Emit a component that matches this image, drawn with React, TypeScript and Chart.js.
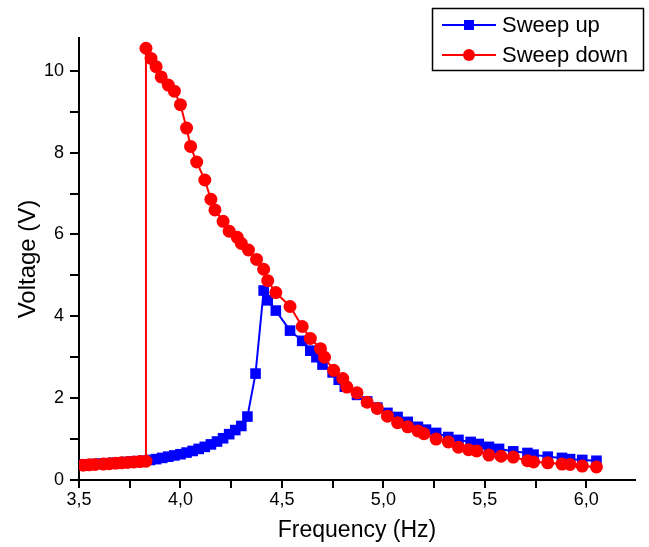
import React, { useEffect, useRef } from "react";
import { Chart, registerables } from "chart.js";

Chart.register(...registerables);

// Sweep up (blue squares)
const upFreq = [3.52, 3.55, 3.58, 3.61, 3.64, 3.67, 3.70, 3.73, 3.76, 3.79, 3.82, 3.85, 3.88, 3.91, 3.94, 3.97, 4.00, 4.03, 4.06, 4.09, 4.12, 4.15, 4.18, 4.21, 4.24, 4.27, 4.30, 4.33, 4.37, 4.41, 4.43, 4.47, 4.54, 4.60, 4.64, 4.67, 4.70, 4.75, 4.78, 4.81, 4.87, 4.92, 4.97, 5.02, 5.07, 5.12, 5.17, 5.21, 5.26, 5.32, 5.37, 5.43, 5.47, 5.52, 5.57, 5.64, 5.71, 5.74, 5.81, 5.88, 5.92, 5.98, 6.05];
const upVolt = [0.38, 0.38, 0.39, 0.40, 0.41, 0.42, 0.43, 0.44, 0.45, 0.46, 0.47, 0.49, 0.51, 0.54, 0.57, 0.60, 0.63, 0.67, 0.71, 0.76, 0.81, 0.87, 0.94, 1.02, 1.12, 1.22, 1.32, 1.55, 2.6, 4.63, 4.39, 4.14, 3.65, 3.40, 3.16, 3.0, 2.82, 2.63, 2.45, 2.28, 2.08, 1.92, 1.77, 1.64, 1.54, 1.42, 1.30, 1.23, 1.15, 1.05, 0.98, 0.93, 0.88, 0.81, 0.76, 0.70, 0.66, 0.62, 0.57, 0.54, 0.51, 0.49, 0.47];

// Sweep down (red circles), in sweep order (high to low frequency)
const downFreq = [6.05, 5.98, 5.92, 5.88, 5.81, 5.74, 5.71, 5.64, 5.58, 5.52, 5.46, 5.42, 5.37, 5.32, 5.26, 5.20, 5.17, 5.12, 5.07, 5.02, 4.97, 4.92, 4.87, 4.82, 4.80, 4.755, 4.71, 4.69, 4.64, 4.60, 4.54, 4.47, 4.43, 4.41, 4.375, 4.335, 4.30, 4.28, 4.24, 4.21, 4.17, 4.15, 4.12, 4.08, 4.05, 4.03, 4.00, 3.97, 3.94, 3.905, 3.88, 3.855, 3.83, 3.83, 3.80, 3.77, 3.74, 3.71, 3.68, 3.65, 3.62, 3.58, 3.55, 3.52];
const downVolt = [0.32, 0.34, 0.38, 0.39, 0.42, 0.44, 0.47, 0.56, 0.58, 0.61, 0.71, 0.74, 0.80, 0.93, 1.00, 1.13, 1.20, 1.30, 1.40, 1.56, 1.75, 1.90, 2.13, 2.27, 2.48, 2.68, 3.0, 3.21, 3.46, 3.75, 4.24, 4.58, 4.87, 5.15, 5.39, 5.62, 5.78, 5.93, 6.08, 6.32, 6.6, 6.86, 7.33, 7.77, 8.15, 8.6, 9.17, 9.5, 9.65, 9.85, 10.1, 10.3, 10.55, 0.46, 0.45, 0.44, 0.43, 0.42, 0.41, 0.40, 0.39, 0.38, 0.37, 0.36];

const seriesLabels = ["Sweep up", "Sweep down"];
const seriesColors = ["#0000ff", "#ff0000"];
const xTitle = "Frequency (Hz)";
const yTitle = "Voltage (V)";

const FONT = "'Liberation Sans', Arial, sans-serif";

const legendPlugin = {
  id: "boxLegend",
  afterDraw(chart: any) {
    const ctx = chart.ctx;
    ctx.save();
    const bx = 432.5, by = 8.5, bw = 211, bh = 62;
    ctx.fillStyle = "#ffffff";
    ctx.fillRect(bx, by, bw, bh);
    ctx.strokeStyle = "#000000";
    ctx.lineWidth = 1.5;
    ctx.strokeRect(bx, by, bw, bh);
    const rows = [25, 55];
    chart.data.datasets.forEach((ds: any, i: number) => {
      const y = rows[i];
      ctx.strokeStyle = ds.borderColor;
      ctx.lineWidth = 2;
      ctx.beginPath();
      ctx.moveTo(442, y);
      ctx.lineTo(496, y);
      ctx.stroke();
      ctx.fillStyle = ds.borderColor;
      if (ds.pointStyle === "rect") {
        ctx.fillRect(464, y - 5, 10, 10);
      } else {
        ctx.beginPath();
        ctx.arc(469, y, 6, 0, Math.PI * 2);
        ctx.fill();
      }
      ctx.fillStyle = "#000000";
      ctx.font = `22px ${FONT}`;
      ctx.textBaseline = "middle";
      ctx.textAlign = "left";
      ctx.fillText(ds.label, 502, y + 1);
    });
    ctx.restore();
  },
};

export default function App() {
  const ref = useRef<HTMLCanvasElement | null>(null);
  useEffect(() => {
    if (!ref.current) return;
    const chart = new Chart(ref.current, {
      type: "scatter",
      data: {
        datasets: [
          {
            label: seriesLabels[0],
            data: upFreq.map((x, i) => ({ x, y: upVolt[i] })),
            borderColor: seriesColors[0],
            backgroundColor: seriesColors[0],
            showLine: true,
            borderWidth: 2,
            pointStyle: "rect",
            pointRadius: 7.5,
            pointBorderWidth: 0,
            order: 2,
          },
          {
            label: seriesLabels[1],
            data: downFreq.map((x, i) => ({ x, y: downVolt[i] })),
            borderColor: seriesColors[1],
            backgroundColor: seriesColors[1],
            showLine: true,
            borderWidth: 2,
            pointStyle: "circle",
            pointRadius: 6.5,
            pointBorderWidth: 0,
            order: 1,
          },
        ],
      },
      options: {
        animation: false,
        responsive: false,
        layout: { padding: { top: 38, right: 14, left: 0, bottom: 0 } },
        plugins: { legend: { display: false }, tooltip: { enabled: false } },
        scales: {
          x: {
            type: "linear",
            min: 3.5,
            max: 6.24,
            afterFit: (s: any) => { s.height = 67; },
            ticks: {
              stepSize: 0.25,
              autoSkip: false,
              maxRotation: 0,
              includeBounds: false,
              color: "#000",
              padding: 1,
              font: { family: FONT, size: 18 },
              callback: (v: any) => {
                const n = Number(v);
                return Math.abs(n * 2 - Math.round(n * 2)) < 1e-6 ? n.toFixed(1).replace(".", ",") : "";
              },
            },
            grid: { drawOnChartArea: false, drawTicks: true, tickLength: 8, color: "#000", lineWidth: 2 },
            border: { display: true, color: "#000", width: 2 },
            title: { display: true, text: xTitle, color: "#000", font: { family: FONT, size: 23 }, padding: { top: 0, bottom: 3 } },
          },
          y: {
            type: "linear",
            min: 0,
            max: 10.8,
            afterFit: (s: any) => { s.width = 79; },
            ticks: {
              stepSize: 1,
              autoSkip: false,
              includeBounds: false,
              color: "#000",
              padding: 6,
              font: { family: FONT, size: 18 },
              callback: (v: any) => {
                const n = Number(v);
                return Math.round(n) % 2 === 0 ? String(Math.round(n)) : "";
              },
            },
            grid: { drawOnChartArea: false, drawTicks: true, tickLength: 9, color: "#000", lineWidth: 2 },
            border: { display: true, color: "#000", width: 2 },
            title: { display: true, text: yTitle, color: "#000", font: { family: FONT, size: 24 }, padding: { top: 14, bottom: 0 } },
          },
        },
      },
      plugins: [legendPlugin],
    });
    return () => chart.destroy();
  }, []);
  return (
    <div style={{ position: "absolute", left: 0, top: 0, width: 649, height: 547, background: "#fff" }}>
      <canvas ref={ref} width={649} height={547} />
    </div>
  );
}
